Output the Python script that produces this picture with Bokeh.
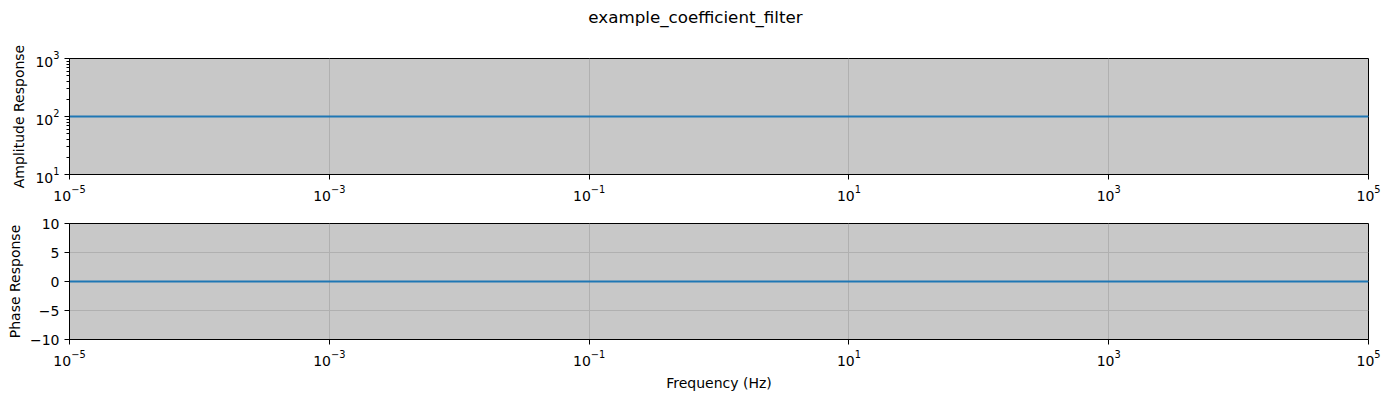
from bokeh.plotting import figure
from bokeh.layouts import column
from bokeh.models import FixedTicker, Range1d, Label
from bokeh.embed import file_html
from bokeh.resources import INLINE

title_text = "example_coefficient_filter"
freq = [1e-5, 1e-4, 1e-3, 1e-2, 1e-1, 1e0, 1e1, 1e2, 1e3, 1e4, 1e5]
amplitude = [100, 100, 100, 100, 100, 100, 100, 100, 100, 100, 100]
phase = [0, 0, 0, 0, 0, 0, 0, 0, 0, 0, 0]
x_ticks = [1e-5, 1e-3, 1e-1, 1e1, 1e3, 1e5]
amp_ticks = [10, 100, 1000]
amp_minor = [20, 30, 40, 50, 60, 70, 80, 90, 200, 300, 400, 500, 600, 700, 800, 900]
phase_ticks = [-10, -5, 0, 5, 10]

FONT = "DejaVu Sans"
BG = "#c8c8c8"
LINE = "#1f77b4"
GRID = "#b0b0b0"


def style(p):
    p.background_fill_color = BG
    p.border_fill_color = "white"
    p.outline_line_color = "black"
    p.outline_line_width = 1
    p.outline_line_alpha = 1
    for ax in p.axis:
        ax.major_label_text_font = FONT
        ax.major_label_text_font_size = "14px"
        ax.major_label_text_color = "black"
        ax.axis_label_text_font = FONT
        ax.axis_label_text_font_size = "14px"
        ax.axis_label_text_font_style = "normal"
        ax.axis_label_text_color = "black"
        ax.axis_line_color = "black"
        ax.major_tick_line_color = "black"
        ax.minor_tick_line_color = "black"
        ax.major_tick_out = 5
        ax.major_tick_in = 0
        ax.minor_tick_out = 3
        ax.minor_tick_in = 0
    p.grid.grid_line_color = GRID
    p.grid.grid_line_width = 1


# title strip
p0 = figure(width=1390, height=40, output_backend="svg", toolbar_location=None,
            x_range=Range1d(0, 1), y_range=Range1d(0, 1),
            min_border=0, min_border_left=0, min_border_right=0,
            min_border_top=0, min_border_bottom=0)
p0.axis.visible = False
p0.grid.visible = False
p0.outline_line_color = None
p0.background_fill_color = "white"
p0.border_fill_color = "white"
p0.add_layout(Label(x=626, y=24, x_units="screen", y_units="screen",
                    text=title_text, text_align="center", text_baseline="middle",
                    text_font=FONT, text_font_size="16.7px", text_color="black"))

p1 = figure(width=1390, height=163, x_axis_type="log", y_axis_type="log",
            output_backend="svg", toolbar_location=None,
            x_range=Range1d(1e-5, 1e5), y_range=Range1d(10, 1000),
            min_border_top=18, min_border_bottom=29, min_border_left=69,
            min_border_right=22)
p1.line(freq, amplitude, line_color=LINE, line_width=2)
p1.xaxis.ticker = FixedTicker(ticks=x_ticks, minor_ticks=[])
p1.yaxis.ticker = FixedTicker(ticks=amp_ticks, minor_ticks=amp_minor)
p1.yaxis.axis_label = "Amplitude Response"
style(p1)
p1.yaxis.axis_label_standoff = 5

p2 = figure(width=1390, height=194, x_axis_type="log",
            output_backend="svg", toolbar_location=None,
            x_range=Range1d(1e-5, 1e5), y_range=Range1d(-10, 10),
            min_border_top=20, min_border_bottom=58, min_border_left=69,
            min_border_right=22)
p2.line(freq, phase, line_color=LINE, line_width=2)
p2.xaxis.ticker = FixedTicker(ticks=x_ticks, minor_ticks=[])
p2.yaxis.ticker = FixedTicker(ticks=phase_ticks, minor_ticks=[])
p2.yaxis.axis_label = "Phase Response"
p2.xaxis.axis_label = "Frequency (Hz)"
style(p2)
p2.yaxis.axis_label_standoff = 4
p2.xaxis.axis_label_standoff = 6

layout = column(p0, p1, p2, spacing=0)
open("out.html", "w").write(file_html(layout, INLINE))
